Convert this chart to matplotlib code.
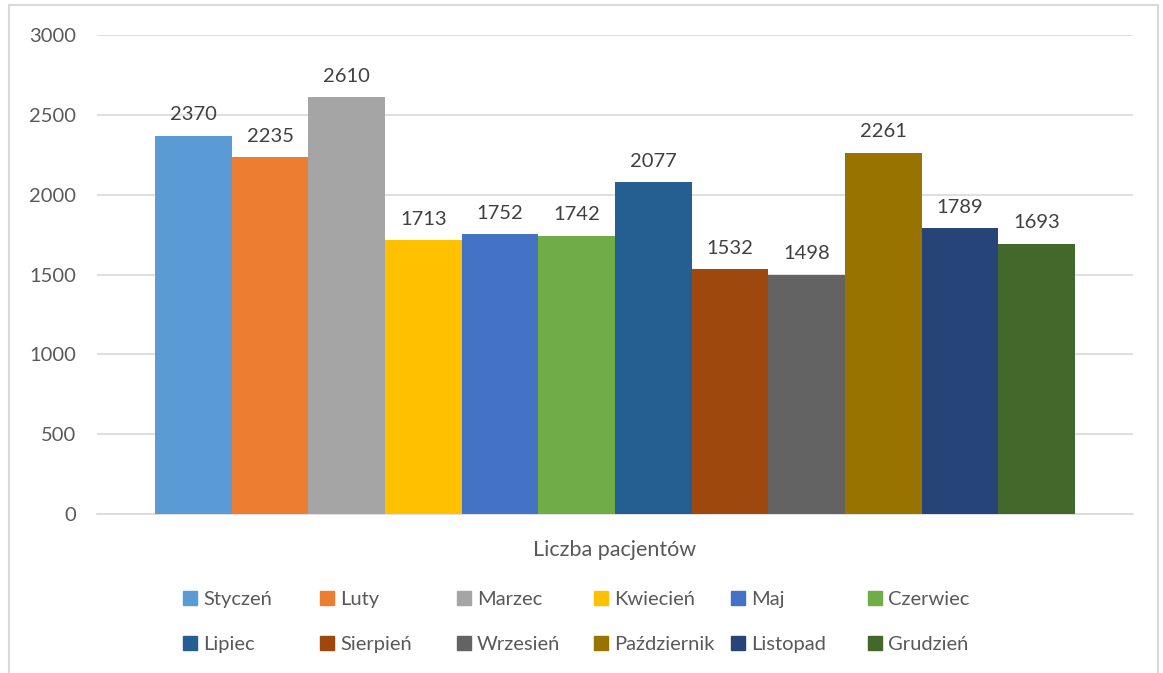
import matplotlib.pyplot as plt
from matplotlib.patches import Rectangle

plt.rcParams['font.family'] = ['Lato', 'DejaVu Sans']

# Data
months = ["Styczeń", "Luty", "Marzec", "Kwiecień", "Maj", "Czerwiec",
          "Lipiec", "Sierpień", "Wrzesień", "Październik", "Listopad", "Grudzień"]
patients = [2370, 2235, 2610, 1713, 1752, 1742, 2077, 1532, 1498, 2261, 1789, 1693]
category = "Liczba pacjentów"
colors = ["#5B9BD5", "#ED7D31", "#A5A5A5", "#FFC000", "#4472C4", "#70AD47",
          "#255E91", "#9E480E", "#636363", "#997300", "#264478", "#43682B"]

W, H = 1163, 673
fig = plt.figure(figsize=(W / 100, H / 100), dpi=100)
txt = "#595959"

# chart border
fig.patches.append(Rectangle((9 / W, -0.01), (1158 - 9) / W, 1 - 5 / H + 0.01,
                             transform=fig.transFigure, fill=False,
                             edgecolor="#D9D9D9", linewidth=1.5))

ax = fig.add_axes([97 / W, (H - 514) / H, (1133 - 97) / W, (514 - 35) / H])

xs = list(range(len(months)))
bars = ax.bar(xs, patients, width=1.0, color=colors, zorder=3)
ax.bar_label(bars, labels=[str(v) for v in patients], padding=9,
             fontsize=14.5, color="#404040")

ax.set_ylim(0, 3000)
ax.set_xlim(-1.257, 12.257)
ax.set_yticks(range(0, 3001, 500))
ax.yaxis.grid(True, color="#D9D9D9", linewidth=1.2, zorder=0)
ax.set_xticks([5.5], [category])
ax.tick_params(axis="y", length=0, pad=15, labelsize=14.5, labelcolor=txt)
ax.tick_params(axis="x", length=0, pad=19, labelsize=15.5, labelcolor=txt)
for s in ["top", "right", "left"]:
    ax.spines[s].set_visible(False)
ax.spines["bottom"].set_color("#D9D9D9")
ax.spines["bottom"].set_linewidth(1.2)

# legend, Excel-style uniform columns
for i, (m, c) in enumerate(zip(months, colors)):
    col, row = i % 6, i // 6
    x0 = 183 + col * 137
    yc = 598 + row * 45
    fig.patches.append(Rectangle((x0 / W, (H - yc - 7) / H), 14 / W, 14 / H,
                                 transform=fig.transFigure, color=c))
    fig.text((x0 + 20) / W, (H - yc) / H, m, fontsize=14.5, color=txt,
             va="center_baseline", ha="left")

fig.savefig("out.png", dpi=100)
